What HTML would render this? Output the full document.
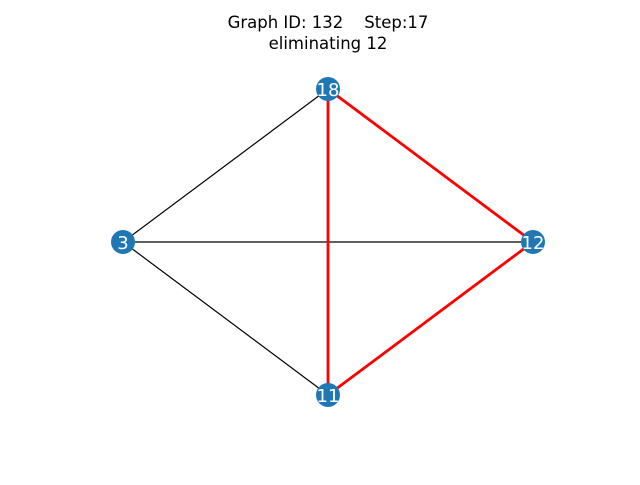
<!DOCTYPE html>
<html><head><meta charset="utf-8"><style>html,body{margin:0;padding:0;background:#fff}</style></head>
<body>
<svg width="640" height="480" viewBox="0 0 640 480" xmlns="http://www.w3.org/2000/svg" xml:space="preserve">
<rect width="640" height="480" fill="#fff"/>
<text x="328" y="28" text-anchor="middle" font-family="DejaVu Sans, Liberation Sans, sans-serif" font-size="16.5" fill="#000" style="white-space:pre">Graph ID: 132    Step:17</text>
<text x="328" y="49" text-anchor="middle" font-family="DejaVu Sans, Liberation Sans, sans-serif" font-size="16.5" fill="#000">eliminating 12</text>
<g stroke="#000" stroke-width="1.2">
<line x1="328" y1="89" x2="123" y2="242"/>
<line x1="123" y1="242" x2="533" y2="242"/>
<line x1="123" y1="242" x2="328" y2="395"/>
</g>
<g stroke="#ff0000" stroke-width="2.8">
<line x1="328" y1="89" x2="328" y2="395"/>
<line x1="328" y1="89" x2="533" y2="242"/>
<line x1="533" y1="242" x2="328" y2="395"/>
</g>
<g fill="#1f77b4">
<circle cx="328" cy="89" r="12"/>
<circle cx="123" cy="242" r="12"/>
<circle cx="533" cy="242" r="12"/>
<circle cx="328" cy="395" r="12"/>
</g>
<g fill="#fff" font-family="DejaVu Sans, Liberation Sans, sans-serif" font-size="18" text-anchor="middle">
<text x="328" y="96">18</text>
<text x="123" y="249">3</text>
<text x="533" y="249">12</text>
<text x="328" y="402">11</text>
</g>
</svg>
</body></html>
